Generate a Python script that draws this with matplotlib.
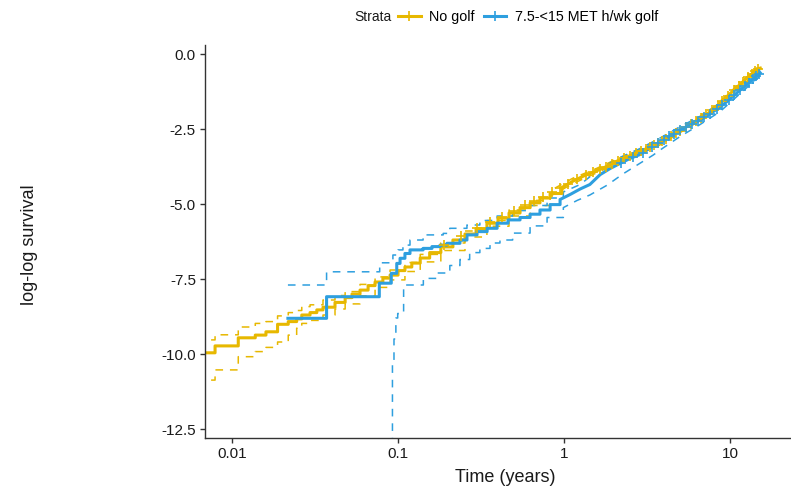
import numpy as np
import matplotlib
matplotlib.use("Agg")
import matplotlib.pyplot as plt
from matplotlib.lines import Line2D

plt.rcParams["font.family"] = ["Liberation Sans", "DejaVu Sans"]

# -- Couleurs --
COL_NOGOLF = "#E7B800"
COL_GOLF   = "#2E9FDF"

# -- Donnees : No golf (courbe principale) --
t_nogolf = [0.005, 0.0079, 0.0109, 0.0138, 0.0160, 0.0188, 0.0218, 0.0245, 0.0263,
            0.0295, 0.0324, 0.0353, 0.0417, 0.048, 0.0528, 0.059, 0.066, 0.0727,
            0.081, 0.0895, 0.100, 0.110, 0.121, 0.136, 0.155, 0.181, 0.214, 0.253,
            0.295, 0.343, 0.400, 0.466, 0.543, 0.625, 0.716, 0.824, 0.97, 1.13,
            1.32, 1.56, 1.82, 2.12, 2.47, 2.87, 3.30, 3.79, 4.36, 5.0, 5.74, 6.6,
            7.27, 8.1, 8.9, 10.0, 11.3, 12.65, 13.8, 14.5, 15.2]
y_nogolf = [-9.96, -9.73, -9.46, -9.37, -9.26, -9.01, -8.92, -8.83, -8.70,
            -8.62, -8.53, -8.44, -8.28, -8.12, -8.00, -7.87, -7.72, -7.60,
            -7.47, -7.37, -7.22, -7.10, -6.97, -6.80, -6.62, -6.43, -6.20, -6.00,
            -5.82, -5.64, -5.47, -5.30, -5.12, -4.96, -4.80, -4.65, -4.45, -4.24,
            -4.06, -3.90, -3.74, -3.55, -3.40, -3.25, -3.10, -2.95, -2.75, -2.55, -2.35, -2.15,
            -2.00, -1.80, -1.58, -1.32, -1.05, -0.80, -0.62, -0.50, -0.47]

t_nogolf_ci = [0.005, 0.0079, 0.0109, 0.0138, 0.0160, 0.0188, 0.0218, 0.0245, 0.0263,
               0.0295, 0.0353, 0.0417, 0.048, 0.059, 0.0727, 0.0895, 0.110, 0.136,
               0.181, 0.253, 0.343, 0.466, 0.625, 0.824, 1.13, 1.56, 2.12, 2.87,
               3.79, 5.0, 6.6, 8.1, 10.0, 12.65, 14.5]
up_nogolf = [-9.53, -9.36, -9.10, -8.98, -8.92, -8.73, -8.62, -8.55, -8.42,
             -8.36, -8.20, -8.05, -7.92, -7.68, -7.43, -7.20, -6.95, -6.68,
             -6.30, -5.90, -5.55, -5.20, -4.88, -4.56, -4.14, -3.82, -3.48, -3.18,
             -2.88, -2.48, -2.08, -1.74, -1.27, -0.76, -0.46]
lo_nogolf = [-10.87, -10.53, -10.09, -9.92, -9.78, -9.60, -9.37, -9.14, -8.98,
             -8.88, -8.70, -8.50, -8.33, -8.06, -7.78, -7.53, -7.25, -6.93,
             -6.55, -6.10, -5.74, -5.40, -5.05, -4.74, -4.32, -3.97, -3.63, -3.33,
             -3.03, -2.62, -2.22, -1.86, -1.37, -0.84, -0.54]

# -- Donnees : 7.5-<15 MET h/wk golf --
t_golf = [0.0217, 0.0371, 0.0771, 0.091, 0.0982, 0.1028, 0.110, 0.118, 0.1415,
          0.160, 0.179, 0.197, 0.236, 0.260, 0.299, 0.344, 0.395, 0.46, 0.543,
          0.624, 0.716, 0.824, 0.946, 1.09, 1.25, 1.43, 1.65, 1.89, 2.17, 2.50,
          2.87, 3.30, 3.79, 4.35, 5.0, 5.74, 6.6, 7.58, 8.7, 10.0, 11.5, 13.2, 15.2]
y_golf = [-8.81, -8.09, -7.64, -7.31, -6.98, -6.81, -6.65, -6.53, -6.48,
          -6.42, -6.37, -6.31, -6.20, -6.03, -5.92, -5.81, -5.64, -5.53, -5.45,
          -5.34, -5.20, -5.02, -4.85, -4.68, -4.50, -4.35, -4.02, -3.82, -3.65, -3.48,
          -3.35, -3.13, -2.93, -2.73, -2.53, -2.37, -2.20, -1.99, -1.77, -1.50, -1.20, -0.92, -0.63]

t_golf_up = [0.0217, 0.0371, 0.0775, 0.0931, 0.100, 0.107, 0.118, 0.1415, 0.187,
             0.205, 0.260, 0.311, 0.395, 0.49, 0.624, 0.79, 0.99, 1.25, 1.65,
             2.17, 2.87, 3.79, 5.0, 6.6, 8.7, 11.5, 15.2]
up_golf = [-7.70, -7.26, -6.96, -6.70, -6.53, -6.37, -6.20, -6.03, -5.98,
           -5.81, -5.70, -5.55, -5.40, -5.22, -5.05, -4.80, -4.60, -4.35, -3.82,
           -3.45, -3.15, -2.80, -2.42, -2.08, -1.65, -1.10, -0.55]

t_golf_lo = [0.0915, 0.0925, 0.0945, 0.097, 0.0995, 0.108, 0.142, 0.170, 0.205,
             0.236, 0.270, 0.311, 0.358, 0.411, 0.49, 0.624, 0.79, 0.99, 1.20,
             1.43, 1.82, 2.26, 2.87, 3.44, 3.79, 5.0, 6.6, 8.7, 11.5, 15.2]
lo_golf = [-30.0, -10.3, -9.5, -8.8, -8.65, -7.70, -7.48, -7.30, -7.05,
           -6.85, -6.62, -6.48, -6.30, -6.20, -5.97, -5.73, -5.45, -5.12, -4.88,
           -4.70, -4.37, -4.00, -3.64, -3.37, -3.20, -2.75, -2.35, -1.92, -1.32, -0.72]

# -- Censures (+) --
cens_nogolf = [0.19, 0.24, 0.30, 0.36, 0.42, 0.50, 0.58, 0.66, 0.75, 0.85, 0.95,
               1.05, 1.2, 1.35, 1.5, 1.65, 1.8, 1.95, 2.1, 2.3, 2.5, 2.7, 2.9,
               3.1, 3.3, 3.5, 3.7, 3.9, 4.1, 4.4, 4.7, 5.0, 5.4, 5.8, 6.2, 6.7,
               7.2, 7.8, 8.4, 9.0, 9.7, 10.5, 11.3, 12.0, 12.8, 13.5, 14.2, 14.8]
cens_golf = [2.2, 2.6, 3.0, 3.4, 3.7, 4.0, 4.3, 4.6, 5.0, 5.4, 5.9, 6.4, 7.0,
             7.6, 8.3, 9.0, 9.8, 10.6, 11.5, 12.3, 13.0, 13.7, 14.4, 15.0]

SPLIT = 1.0  # marches jusqu'a 1 an, ensuite evenements trop denses -> trace continu


def step_path(t, y, split=SPLIT):
    xs, ys = [], []
    for i in range(len(t)):
        if i > 0 and t[i] <= split:
            xs.append(t[i])
            ys.append(y[i - 1])
        xs.append(t[i])
        ys.append(y[i])
    return xs, ys


fig = plt.figure(figsize=(7.91, 4.88), dpi=100)
ax = fig.add_axes([205 / 791, 1 - 438 / 488, 585 / 791, 393 / 488])

DASH = (5, 4.5)
for t, y, col in [(t_nogolf_ci, up_nogolf, COL_NOGOLF), (t_nogolf_ci, lo_nogolf, COL_NOGOLF),
                  (t_golf_up, up_golf, COL_GOLF), (t_golf_lo, lo_golf, COL_GOLF)]:
    xs, ys = step_path(t, y)
    ax.plot(xs, ys, color=col, lw=1.1, dashes=DASH)

xs, ys = step_path(t_nogolf, y_nogolf)
ax.plot(xs, ys, color=COL_NOGOLF, lw=2.2)
xs, ys = step_path(t_golf, y_golf)
ax.plot(xs, ys, color=COL_GOLF, lw=2.2)

ax.plot(cens_nogolf, np.interp(cens_nogolf, t_nogolf, y_nogolf), ls="none",
        marker="+", ms=7, mew=1.2, color=COL_NOGOLF)
ax.plot(cens_golf, np.interp(cens_golf, t_golf, y_golf), ls="none",
        marker="+", ms=7, mew=1.2, color=COL_GOLF)

ax.set_xscale("log")
ax.set_xlim(10 ** -2.163, 10 ** 1.361)
ax.set_ylim(-12.8, 0.3)
ax.set_xticks([0.01, 0.1, 1, 10])
ax.set_xticklabels(["0.01", "0.1", "1", "10"])
ax.minorticks_off()
yt = [0.0, -2.5, -5.0, -7.5, -10.0, -12.5]
ax.set_yticks(yt)
ax.set_yticklabels([f"{v:.1f}" for v in yt])

for s in ["top", "right"]:
    ax.spines[s].set_visible(False)
for s in ["left", "bottom"]:
    ax.spines[s].set_color("#333333")
    ax.spines[s].set_linewidth(1.0)
ax.tick_params(axis="both", length=3.5, width=1.0, color="#333333",
               labelsize=11, labelcolor="#1a1a1a", pad=3)

fig.text(505 / 791, 1 - 478 / 488, "Time (years)", ha="center", va="center",
         fontsize=13, color="#1a1a1a")
fig.text(30 / 791, 1 - 245 / 488, "log-log survival", ha="center", va="center",
         rotation=90, fontsize=13, color="#1a1a1a")

# -- Legende --
fig.text(354 / 791, 1 - 17 / 488, "Strata", ha="left", va="center",
         fontsize=10, color="#1a1a1a")
handles = [Line2D([], [], color=COL_NOGOLF, lw=2.2, marker="+", ms=7, mew=1.2),
           Line2D([], [], color=COL_GOLF, lw=2.2, marker="+", ms=7, mew=1.2)]
fig.legend(handles, ["No golf", "7.5-<15 MET h/wk golf"], ncol=2, frameon=False,
           loc="center left", bbox_to_anchor=(398 / 791, 1 - 17 / 488),
           fontsize=10.3, handlelength=1.6, handletextpad=0.6, columnspacing=0.6,
           borderaxespad=0, borderpad=0)

fig.savefig("out.png", dpi=100)
